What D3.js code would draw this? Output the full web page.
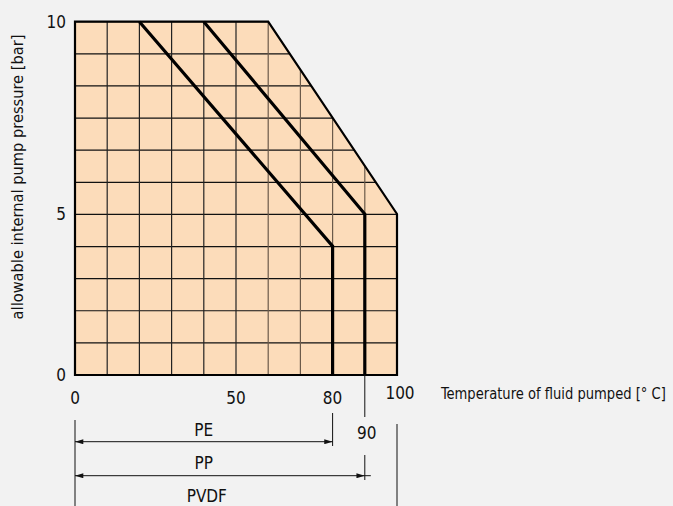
<!DOCTYPE html>
<html><head><meta charset="utf-8">
<script src="https://cdn.jsdelivr.net/npm/d3@7"></script>
<style>
html,body{margin:0;padding:0;background:#f2f2f2;}
svg{display:block;}
text{font-family:"Liberation Sans Narrow","DejaVu Sans Condensed","Open Sans",sans-serif;fill:#111;}
</style></head>
<body>
<script>
// ---- data ----
const envelopeTemp = [0, 60, 100, 100, 0];
const envelopePress = [10, 10, 5, 0, 0];
const peTemp = [20, 80, 80];
const pePress = [10, 4, 0];
const ppTemp = [40, 90, 90];
const ppPress = [10, 5, 0];
const xTicks = [0, 50, 80, 100];
const yTicks = [0, 5, 10];
const materials = ["PE", "PP", "PVDF"];
const materialMax = [80, 90, 100];

const W = 673, H = 506;
const svg = d3.select("body").append("svg").attr("width", W).attr("height", H);

const x = d3.scaleLinear().domain([0, 100]).range([75, 397]);
const y = d3.scaleLinear().domain([0, 5, 10]).range([375, 214, 21.7]);

const defs = svg.append("defs");
defs.append("marker").attr("id", "arr").attr("viewBox", "0 0 10 6")
  .attr("refX", 10).attr("refY", 3).attr("markerWidth", 9).attr("markerHeight", 5)
  .attr("markerUnits", "userSpaceOnUse").attr("orient", "auto-start-reverse")
  .append("path").attr("d", "M0,0L10,3L0,6Z").attr("fill", "#111");

const env = envelopeTemp.map((t, i) => [x(t), y(envelopePress[i])]);
const line = d3.line();

defs.append("clipPath").attr("id", "clipEnv").append("path").attr("d", line(env) + "Z");

svg.append("path").attr("d", line(env) + "Z").attr("fill", "#fcdcba");

// grid
const g = svg.append("g").attr("clip-path", "url(#clipEnv)");
const [y0, y1] = [y.range()[0], y.range()[2]];
const nRows = 11;
for (let k = 0; k <= nRows; k++) {
  const yy = y0 + (y1 - y0) * k / nRows;
  g.append("line").attr("x1", x(0)).attr("x2", x(100)).attr("y1", yy).attr("y2", yy)
    .attr("stroke", "#111").attr("stroke-width", 1.2);
}
d3.range(0, 101, 10).forEach(t => {
  g.append("line").attr("x1", x(t)).attr("x2", x(t)).attr("y1", y0).attr("y2", y1)
    .attr("stroke", t > 50 ? "#6b5a4a" : "#222").attr("stroke-width", 1.2);
});

// outline
svg.append("path").attr("d", line(env) + "Z").attr("fill", "none")
  .attr("stroke", "#000").attr("stroke-width", 2.2).attr("stroke-linejoin", "miter");

// material curves
[[peTemp, pePress], [ppTemp, ppPress]].forEach(([T, P]) => {
  svg.append("path").attr("d", line(T.map((t, i) => [x(t), y(P[i])])))
    .attr("fill", "none").attr("stroke", "#000").attr("stroke-width", 3.2);
});

// axis labels
const fs = 17;
yTicks.forEach(v => {
  svg.append("text").attr("x", 66).attr("y", y(v)).attr("dy", "0.35em")
    .attr("text-anchor", "end").attr("font-size", fs).text(v);
});
xTicks.forEach(v => {
  svg.append("text").attr("x", x(v) + (v === 100 ? 3 : 0)).attr("y", v === 100 ? 393 : 398)
    .attr("dy", "0.35em").attr("text-anchor", "middle").attr("font-size", fs).text(v);
});
svg.append("text").attr("x", x(90) + 2).attr("y", 433).attr("dy", "0.35em")
  .attr("text-anchor", "middle").attr("font-size", fs).text(90);

const xt = svg.append("text").attr("dy", "0.35em").attr("font-size", 16)
  .text("Temperature of fluid pumped [° C]");
const natW = xt.node().getComputedTextLength();
xt.attr("transform", `translate(441,393) scale(${Math.min(1, 225 / natW)},1)`);

const yt = svg.append("text").attr("dy", "0.35em").attr("text-anchor", "middle").attr("font-size", 15.5)
  .text("allowable internal pump pressure [bar]");
const natH = yt.node().getComputedTextLength();
yt.attr("transform", `translate(18,177) rotate(-90) scale(${285 / natH},1)`);

// dimension lines
const dim = svg.append("g").attr("stroke", "#111").attr("stroke-width", 1);
dim.append("line").attr("x1", x(0)).attr("x2", x(0)).attr("y1", 420).attr("y2", 506);
dim.append("line").attr("x1", x(80)).attr("x2", x(80)).attr("y1", 413).attr("y2", 446);
dim.append("line").attr("x1", x(90)).attr("x2", x(90)).attr("y1", 375).attr("y2", 417);
dim.append("line").attr("x1", x(90)).attr("x2", x(90)).attr("y1", 455).attr("y2", 480);
dim.append("line").attr("x1", x(100)).attr("x2", x(100)).attr("y1", 424).attr("y2", 506);

const dimY = [441.7, 475.7, 520];
const labY = [430, 463, 495.7];
materials.forEach((m, i) => {
  dim.append("line").attr("x1", x(0)).attr("x2", x(materialMax[i])).attr("y1", dimY[i]).attr("y2", dimY[i])
    .attr("marker-start", "url(#arr)").attr("marker-end", "url(#arr)");
  svg.append("text").attr("x", (x(0) + x(80)) / 2 + (i === 2 ? 3 : 0)).attr("y", labY[i]).attr("dy", "0.35em")
    .attr("text-anchor", "middle").attr("font-size", fs).text(m);
});
dim.append("line").attr("x1", x(90)).attr("x2", x(90) + 6).attr("y1", dimY[1]).attr("y2", dimY[1]);
</script>
</body></html>
